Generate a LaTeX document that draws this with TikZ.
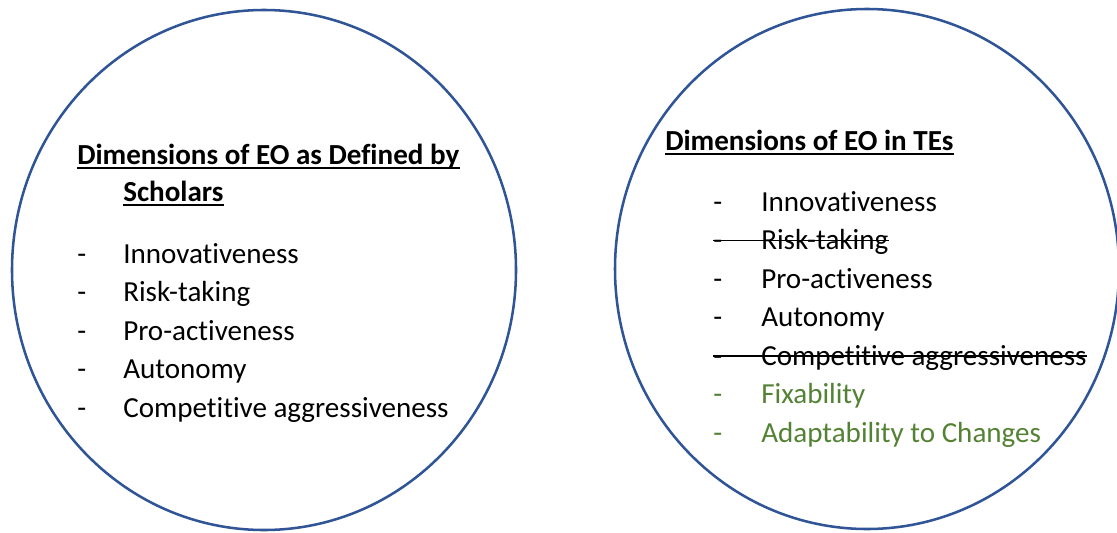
\documentclass[tikz,border=0pt]{standalone}
\usepackage{fontspec}
\setmainfont{Carlito}[Ligatures=NoCommon]
\definecolor{ringblue}{RGB}{47,85,151}
\definecolor{newgreen}{RGB}{84,130,53}
\tikzset{
  ring/.style={draw=ringblue, line width=1.9pt},
  item/.style={anchor=base west, inner sep=0pt, font=\fontsize{21.8}{26}\selectfont},
  head/.style={item, font=\bfseries\fontsize{21.8}{26}\selectfont},
  strike/.style={line width=1.1pt},
  uline/.style={line width=1.4pt}
}

\begin{document}
\begin{tikzpicture}[x=0.75pt,y=-0.75pt]
	\useasboundingbox (0,0) rectangle (1117,532);
	% scholars
	\draw[ring] (264,270) ellipse [x radius=189pt, y radius=195pt];
	\node[head] (lhead) at (77,164) {Dimensions of EO as Defined by};
	\node[head] (lhead2) at (123,201) {Scholars};
	\foreach \n in {lhead,lhead2}
		\draw[uline] ([yshift=-3pt]\n.base west) -- ([yshift=-3pt]\n.base east);
	\foreach \txt [count=\i from 0] in {Innovativeness, Risk-taking, Pro-activeness, Autonomy, Competitive aggressiveness}
	{
		\node[item] (ld\i) at (77,263+38.5*\i) {-};
		\node[item] (lt\i) at (123,263+38.5*\i) {\txt};
	}
	% TEs
	\draw[ring] (867,269) ellipse [x radius=189pt, y radius=195pt];
	\node[head] (rhead) at (665,150) {Dimensions of EO in TEs};
	\draw[uline] ([yshift=-3pt]rhead.base west) -- ([yshift=-3pt]rhead.base east);
	\foreach \txt/\col [count=\i from 0] in {Innovativeness/black, Risk-taking/black, Pro-activeness/black, Autonomy/black, Competitive aggressiveness/black, Fixability/newgreen, Adaptability to Changes/newgreen}
	{
		\node[item, text=\col] (rd\i) at (713,211+38.5*\i) {-};
		\node[item, text=\col] (rt\i) at (761,211+38.5*\i) {\txt};
	}
	\foreach \i in {1,4}
		\draw[strike] ([yshift=6.8pt]rd\i.base west) -- ([yshift=6.8pt]rt\i.base east);
\end{tikzpicture}
\end{document}
